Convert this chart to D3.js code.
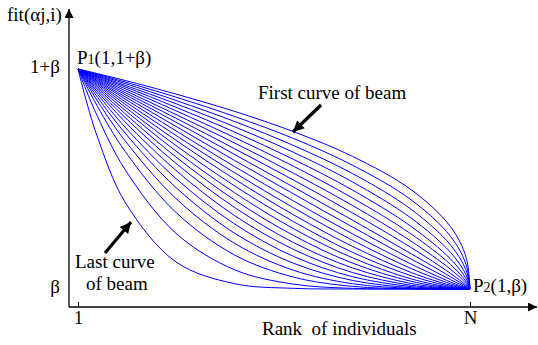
<!DOCTYPE html>
<html>
<head>
<meta charset="utf-8">
<script src="https://cdn.jsdelivr.net/npm/d3@7"></script>
<style>
  html, body { margin: 0; padding: 0; background: #fff; }
  svg { display: block; }
</style>
</head>
<body>
<svg id="chart" width="538" height="345"></svg>
<script>
// Ranks (1..N) at which each curve of the beam is sampled
const N = 101;
const ranks = [1, 3, 6, 13, 26, 41, 56, 71, 86, 96, 100, 101];

// Fitness above β for each curve of the beam, first curve (top) to last curve (bottom)
const beam = [
  [1, .992, .979, .948, .886, .807, .715, .603, .451, .284, .144, 0],
  [1, .990, .976, .941, .872, .784, .684, .563, .405, .240, .111, 0],
  [1, .989, .973, .934, .857, .761, .652, .525, .362, .201, .085, 0],
  [1, .988, .970, .926, .842, .737, .621, .487, .322, .167, .064, 0],
  [1, .987, .967, .919, .826, .713, .589, .450, .284, .137, .047, 0],
  [1, .985, .963, .911, .810, .688, .558, .414, .250, .112, .034, 0],
  [1, .984, .960, .902, .793, .663, .526, .380, .217, .090, .025, 0],
  [1, .982, .956, .893, .776, .637, .495, .346, .188, .071, .017, 0],
  [1, .981, .952, .884, .758, .611, .463, .313, .160, .056, .012, 0],
  [1, .979, .947, .874, .739, .584, .432, .282, .136, .043, .008, 0],
  [1, .977, .943, .864, .719, .556, .400, .251, .113, .032, .005, 0],
  [1, .975, .938, .852, .698, .528, .369, .222, .093, .024, .003, 0],
  [1, .973, .933, .840, .676, .499, .337, .194, .075, .017, .002, 0],
  [1, .970, .927, .827, .652, .468, .306, .167, .060, .012, .001, 0],
  [1, .968, .920, .813, .627, .437, .274, .142, .046, .008, .001, 0],
  [1, .965, .913, .797, .600, .404, .243, .118, .035, .005, 0, 0],
  [1, .961, .905, .780, .571, .370, .211, .096, .025, .003, 0, 0],
  [1, .957, .896, .760, .539, .333, .180, .075, .017, .002, 0, 0],
  [1, .953, .885, .736, .502, .295, .148, .056, .011, .001, 0, 0],
  [1, .947, .871, .709, .461, .253, .117, .039, .006, 0, 0, 0],
  [1, .940, .854, .674, .411, .207, .085, .024, .003, 0, 0, 0],
  [1, .929, .829, .626, .348, .154, .054, .012, .001, 0, 0, 0],
  [1, .908, .783, .543, .253, .087, .022, .003, 0, 0, 0, 0],
  [1, .863, .689, .395, .123, .024, .003, 0, 0, 0, 0, 0]
];

// Axis tick labels
const xTickValues = [1, N];
const xTickLabels = ["1", "N"];
const yTickValues = [0, 1];
const yTickLabels = ["β", "1+β"];

const FONT = "'Liberation Serif', 'Times New Roman', Tinos, 'DejaVu Serif', 'Noto Serif', serif";
const FS = 19;

const svg = d3.select("#chart");

const x = d3.scaleLinear().domain([1, N]).range([78, 470]);
const y = d3.scaleLinear().domain([0, 1]).range([289, 69]);

const axisX = 69;     // position of the vertical axis
const axisY = 307;    // position of the horizontal axis

// Arrow heads for the axes and the annotations
const defs = svg.append("defs");
defs.append("marker")
  .attr("id", "axisArrow")
  .attr("viewBox", "0 0 10 10")
  .attr("refX", 10).attr("refY", 5)
  .attr("markerUnits", "userSpaceOnUse")
  .attr("markerWidth", 11).attr("markerHeight", 9)
  .attr("orient", "auto")
  .append("path").attr("d", "M0,0 L10,5 L0,10 Z").attr("fill", "#000");
defs.append("marker")
  .attr("id", "noteArrow")
  .attr("viewBox", "0 0 10 10")
  .attr("refX", 10).attr("refY", 5)
  .attr("markerUnits", "userSpaceOnUse")
  .attr("markerWidth", 13).attr("markerHeight", 11)
  .attr("orient", "auto")
  .append("path").attr("d", "M0,0 L10,5 L0,10 Z").attr("fill", "#000");

// Curves of the beam (centripetal Catmull-Rom through the sampled ranks)
const line = d3.line()
  .x((d, i) => x(ranks[i]))
  .y(d => y(d))
  .curve(d3.curveCatmullRom.alpha(0.5));

svg.append("g")
  .selectAll("path")
  .data(beam)
  .join("path")
  .attr("d", line)
  .attr("fill", "none")
  .attr("stroke", "#0000ff")
  .attr("stroke-width", 1);

// Axis lines with arrows
svg.append("line")
  .attr("x1", axisX).attr("y1", axisY)
  .attr("x2", axisX).attr("y2", 9)
  .attr("stroke", "#000").attr("stroke-width", 1.3)
  .attr("marker-end", "url(#axisArrow)");
svg.append("line")
  .attr("x1", axisX).attr("y1", axisY)
  .attr("x2", 537).attr("y2", axisY)
  .attr("stroke", "#000").attr("stroke-width", 1.3)
  .attr("marker-end", "url(#axisArrow)");

// Bottom axis: ticks at rank 1 and N
const gx = svg.append("g")
  .attr("transform", `translate(0,${axisY})`)
  .call(d3.axisBottom(x)
    .tickValues(xTickValues)
    .tickFormat((d, i) => xTickLabels[i])
    .tickSizeInner(-5).tickSizeOuter(0).tickPadding(5));
gx.select(".domain").remove();
gx.selectAll(".tick line").attr("stroke", "#000");
gx.selectAll(".tick text")
  .style("font-family", FONT).style("font-size", FS + "px")
  .attr("dy", "0.71em").attr("y", 3);

// Left axis: β and 1+β
const gy = svg.append("g")
  .attr("transform", `translate(${axisX},0)`)
  .call(d3.axisLeft(y)
    .tickValues(yTickValues)
    .tickFormat((d, i) => yTickLabels[i])
    .tickSize(0).tickPadding(9));
gy.select(".domain").remove();
gy.selectAll(".tick text")
  .style("font-family", FONT).style("font-size", FS + "px")
  .attr("dy", "0.2em");

// Plain text helper
function label(xPos, yPos, str, size) {
  return svg.append("text")
    .attr("x", xPos).attr("y", yPos)
    .attr("xml:space", "preserve")
    .style("font-family", FONT)
    .style("font-size", (size || FS) + "px")
    .style("fill", "#000")
    .text(str);
}

// Axis titles
label(7, 21, "fit(αj,i)");
label(262, 335, "Rank  of individuals");

// End point labels
const p1 = label(77, 64, "");
p1.append("tspan").text("P");
p1.append("tspan").style("font-size", "14px").text("1");
p1.append("tspan").text("(1,1+β)");

const p2 = label(473, 292, "");
p2.append("tspan").text("P");
p2.append("tspan").style("font-size", "14px").text("2");
p2.append("tspan").text("(1,β)");

// Annotations
label(258, 99, "First curve of beam");
svg.append("line")
  .attr("x1", 321).attr("y1", 105)
  .attr("x2", 293).attr("y2", 132)
  .attr("stroke", "#000").attr("stroke-width", 3.2)
  .attr("marker-end", "url(#noteArrow)");

label(75, 268, "Last curve");
label(86, 290, "of beam");
svg.append("line")
  .attr("x1", 105).attr("y1", 253)
  .attr("x2", 131).attr("y2", 222)
  .attr("stroke", "#000").attr("stroke-width", 3.2)
  .attr("marker-end", "url(#noteArrow)");
</script>
</body>
</html>
